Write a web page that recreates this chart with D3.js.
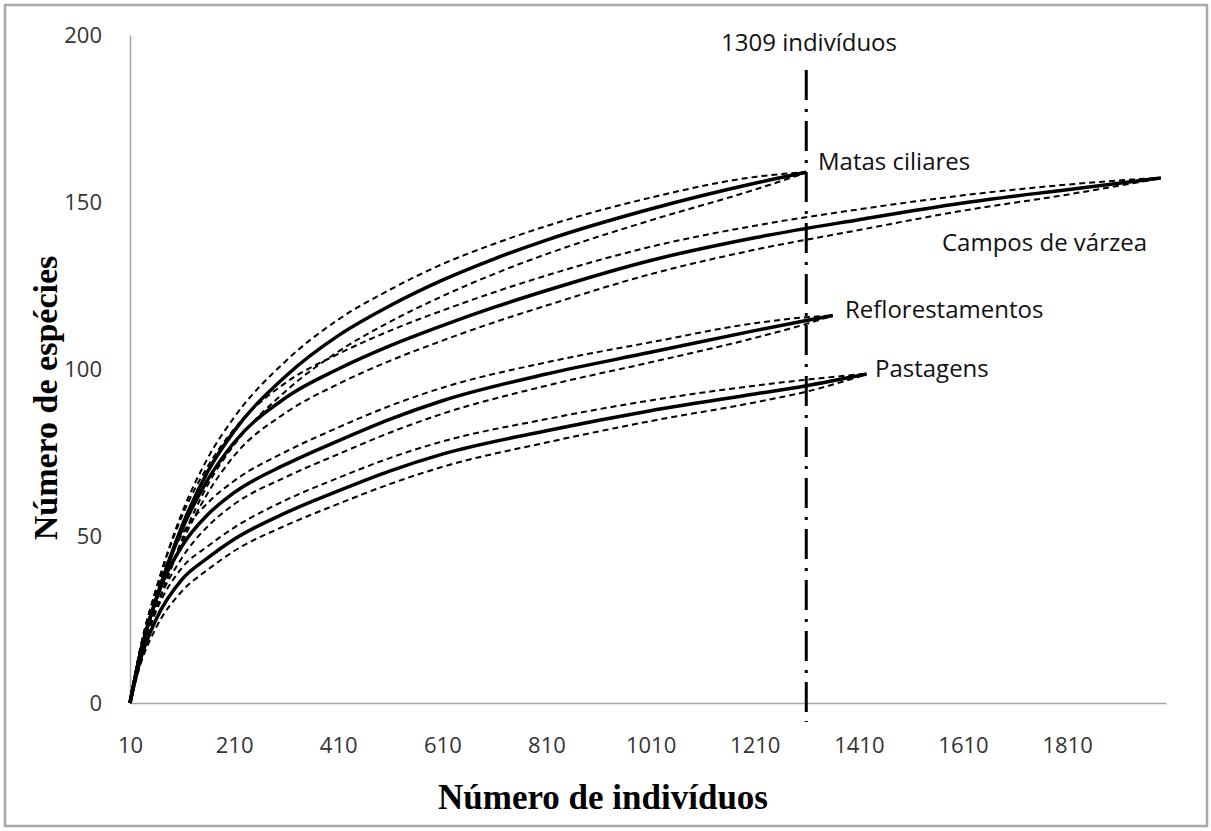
<!DOCTYPE html>
<html>
<meta charset="utf-8">
<style>
body { margin: 0; background: #fff; }
.tick text { font-family: "Open Sans", Lato, sans-serif; fill: #333; }
</style>
<body>
<svg width="1211" height="831"></svg>
<script src="https://d3js.org/d3.v7.min.js"></script>
<script>
// sample sizes (individuals) and species counts
var nMatas  = [10, 30, 60, 110, 160, 210, 310, 410, 510, 610, 710, 810, 1010, 1210, 1309];
var matas   = [0, 15, 31, 53, 69.5, 81.4, 98, 110, 119, 126.6, 133, 138.6, 147.9, 155.6, 158.9];
var matasHi = [0, 16.5, 34, 57, 73.5, 85.5, 102.5, 114.8, 123.8, 131.4, 137.5, 142.8, 151.3, 157.5, 159];
var matasLo = [0, 13.5, 28, 49, 65.5, 77.3, 93.5, 105.2, 114.2, 121.8, 128.5, 134.4, 144.5, 153.7, 158.8];

var nCampos  = [10, 30, 60, 110, 160, 210, 310, 410, 510, 610, 710, 810, 1010, 1210, 1410, 1610, 1810, 1990];
var campos   = [0, 15, 31, 52, 67, 78, 91.5, 100, 107, 113, 118.5, 123.5, 132.5, 139.3, 144.7, 149.7, 153.7, 157.2];
var camposHi = [0, 16.5, 34, 56, 71, 82, 96, 104.5, 111.5, 117.5, 123, 128, 136.6, 142.9, 147.8, 152, 155.2, 157.3];
var camposLo = [0, 13.5, 28, 48, 63, 74, 87, 95.5, 102.5, 108.5, 114, 119, 128.4, 135.7, 141.6, 147.4, 152.2, 157.1];

var nReflo  = [10, 30, 60, 110, 160, 210, 310, 410, 510, 610, 810, 1010, 1210, 1309, 1360];
var reflo   = [0, 15, 31, 47, 56.5, 63, 71.5, 78.5, 85, 90.5, 98.5, 105, 111.5, 114.5, 116];
var refloHi = [0, 16.5, 33.5, 50.5, 60, 66.5, 75.3, 82.5, 89, 94.4, 102, 108, 113.7, 115.5, 116];
var refloLo = [0, 13.5, 28.5, 43.5, 53, 59.5, 67.7, 74.5, 81, 86.6, 95, 102, 109.3, 113.5, 116];

var nPasto  = [10, 30, 60, 110, 160, 210, 310, 410, 510, 610, 810, 1010, 1210, 1309, 1425];
var pasto   = [0, 13, 25, 37, 43.5, 49, 57, 63.5, 69.5, 74.5, 81.5, 87.5, 92.5, 95, 98.5];
var pastoHi = [0, 14.5, 27.5, 40.5, 47, 52.5, 60.8, 67.4, 73.4, 78.3, 85, 90.6, 95, 96.8, 98.6];
var pastoLo = [0, 11.5, 22.5, 33.5, 40, 45.5, 53.2, 59.6, 65.6, 70.7, 78, 84.4, 90, 93.2, 98.4];

var xTicks = [10, 210, 410, 610, 810, 1010, 1210, 1410, 1610, 1810];
var yTicks = [0, 50, 100, 150, 200];
var cutoff = 1309;

var series = [
  { name: "Matas ciliares",   n: nMatas,  mid: matas,  hi: matasHi,  lo: matasLo,  lx: 818, ly: 162 },
  { name: "Campos de várzea", n: nCampos, mid: campos, hi: camposHi, lo: camposLo, lx: 942, ly: 243 },
  { name: "Reflorestamentos", n: nReflo,  mid: reflo,  hi: refloHi,  lo: refloLo,  lx: 845, ly: 310 },
  { name: "Pastagens",        n: nPasto,  mid: pasto,  hi: pastoHi,  lo: pastoLo,  lx: 875, ly: 369 }
];

var svg = d3.select("svg");

svg.append("rect")
    .attr("x", 5).attr("y", 5)
    .attr("width", 1202).attr("height", 821)
    .attr("fill", "none")
    .attr("stroke", "#a8a8a8")
    .attr("stroke-width", 2.5);

var x = d3.scaleLinear().domain([10, 2000]).range([130, 1166]),
    y = d3.scaleLinear().domain([0, 200]).range([703, 35]);

// axes, Excel style: no tick marks
var xAxis = svg.append("g")
    .attr("transform", "translate(0,703)")
    .call(d3.axisBottom(x).tickValues(xTicks).tickSize(0).tickPadding(50).tickFormat(d3.format("d")));
xAxis.select(".domain").attr("stroke", "#a6a6a6").attr("stroke-width", 1.5);
xAxis.selectAll("text").style("font-size", "22px").attr("dy", "0");

var yAxis = svg.append("g")
    .attr("transform", "translate(130,0)")
    .call(d3.axisLeft(y).tickValues(yTicks).tickSize(0).tickPadding(28));
yAxis.select(".domain").attr("stroke", "#a6a6a6").attr("stroke-width", 1.5);
yAxis.selectAll("text").style("font-size", "22px");

function line(ys) {
  return d3.line()
    .x(function(d) { return x(d); })
    .y(function(d, i) { return y(ys[i]); })
    .curve(d3.curveMonotoneX);
}

series.forEach(function(s) {
  [s.hi, s.lo].forEach(function(band) {
    svg.append("path")
        .attr("d", line(band)(s.n))
        .attr("fill", "none")
        .attr("stroke", "#000")
        .attr("stroke-width", 2)
        .attr("stroke-dasharray", "6,4");
  });
  svg.append("path")
      .attr("d", line(s.mid)(s.n))
      .attr("fill", "none")
      .attr("stroke", "#000")
      .attr("stroke-width", 3.5);
  svg.append("text")
      .attr("x", s.lx)
      .attr("y", s.ly)
      .attr("dy", "0.35em")
      .style("font-family", "'Open Sans', Lato, sans-serif")
      .style("font-size", "24px")
      .attr("fill", "#111")
      .text(s.name);
});

// 1309 individuals cut line
svg.append("line")
    .attr("x1", x(cutoff)).attr("x2", x(cutoff))
    .attr("y1", 70).attr("y2", 722)
    .attr("stroke", "#000")
    .attr("stroke-width", 3)
    .attr("stroke-dasharray", "30,9,3,9");

svg.append("text")
    .attr("x", 809)
    .attr("y", 43)
    .attr("dy", "0.35em")
    .attr("text-anchor", "middle")
    .style("font-family", "'Open Sans', Lato, sans-serif")
    .style("font-size", "24px")
    .attr("fill", "#111")
    .text("1309 indivíduos");

svg.append("text")
    .attr("x", 603)
    .attr("y", 809)
    .attr("text-anchor", "middle")
    .style("font-family", "'Liberation Serif', serif")
    .style("font-weight", "bold")
    .style("font-size", "35px")
    .text("Número de indivíduos");

svg.append("text")
    .attr("transform", "translate(57,398) rotate(-90)")
    .attr("text-anchor", "middle")
    .style("font-family", "'Liberation Serif', serif")
    .style("font-weight", "bold")
    .style("font-size", "34px")
    .text("Número de espécies");
</script>
</body>
</html>
